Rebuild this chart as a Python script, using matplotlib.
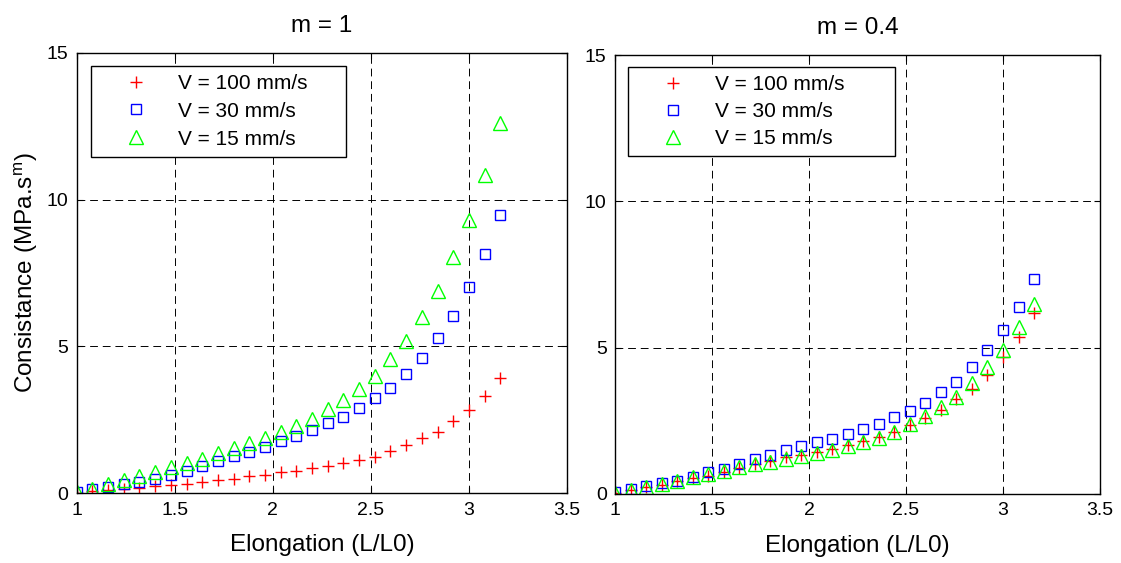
import matplotlib
matplotlib.use("Agg")
import matplotlib.pyplot as plt

plt.rcParams['font.family'] = ['Liberation Sans', 'DejaVu Sans']

elongation = [1.00, 1.08, 1.16, 1.24, 1.32, 1.40, 1.48, 1.56, 1.64, 1.72,
              1.80, 1.88, 1.96, 2.04, 2.12, 2.20, 2.28, 2.36, 2.44, 2.52,
              2.60, 2.68, 2.76, 2.84, 2.92, 3.00, 3.08, 3.16]

labels = ["V = 100 mm/s", "V = 30 mm/s", "V = 15 mm/s"]
titles = ["m = 1", "m = 0.4"]

# m = 1
m1_v100 = [0.02, 0.07, 0.10, 0.14, 0.17, 0.24, 0.28, 0.32, 0.40, 0.44,
           0.50, 0.58, 0.64, 0.71, 0.77, 0.85, 0.93, 1.02, 1.12, 1.25,
           1.45, 1.63, 1.87, 2.09, 2.46, 2.82, 3.31, 3.91]
m1_v30 = [0.06, 0.14, 0.23, 0.31, 0.39, 0.48, 0.62, 0.77, 0.94, 1.09,
          1.26, 1.41, 1.59, 1.77, 1.96, 2.15, 2.38, 2.60, 2.91, 3.23,
          3.59, 4.06, 4.59, 5.28, 6.04, 7.01, 8.14, 9.47]
m1_v15 = [0.05, 0.15, 0.31, 0.45, 0.60, 0.73, 0.90, 1.04, 1.17, 1.36,
          1.53, 1.70, 1.89, 2.07, 2.30, 2.54, 2.86, 3.17, 3.54, 3.99,
          4.57, 5.19, 5.99, 6.89, 8.03, 9.32, 10.83, 12.62]

# m = 0.4
m04_v100 = [0.02, 0.13, 0.24, 0.32, 0.43, 0.55, 0.63, 0.76, 0.90, 1.03,
            1.13, 1.25, 1.32, 1.44, 1.55, 1.67, 1.82, 1.96, 2.12, 2.35,
            2.58, 2.86, 3.24, 3.60, 4.07, 4.67, 5.37, 6.20]
m04_v30 = [0.08, 0.17, 0.27, 0.36, 0.46, 0.59, 0.74, 0.87, 1.04, 1.18,
           1.34, 1.50, 1.63, 1.76, 1.89, 2.06, 2.21, 2.38, 2.63, 2.83,
           3.12, 3.47, 3.84, 4.35, 4.93, 5.61, 6.39, 7.36]
m04_v15 = [0.02, 0.14, 0.24, 0.35, 0.45, 0.57, 0.68, 0.78, 0.91, 1.01,
           1.08, 1.21, 1.29, 1.41, 1.52, 1.63, 1.79, 1.93, 2.11, 2.38,
           2.65, 2.98, 3.33, 3.79, 4.33, 4.93, 5.69, 6.49]

xticks = [1, 1.5, 2, 2.5, 3, 3.5]
xtick_labels = ["1", "1.5", "2", "2.5", "3", "3.5"]
yticks = [0, 5, 10, 15]
ytick_labels = ["0", "5", "10", "15"]

W, H = 1121, 563
fig = plt.figure(figsize=(W / 100, H / 100), dpi=100)

def px_axes(x0, x1, y0, y1):
    return fig.add_axes([x0 / W, 1 - y1 / H, (x1 - x0) / W, (y1 - y0) / H])

ax1 = px_axes(76.7, 567, 52.7, 493.3)
ax2 = px_axes(615, 1100, 55, 494)

series = [
    (m1_v100, m1_v30, m1_v15),
    (m04_v100, m04_v30, m04_v15),
]
legend_boxes = [(0.0286, 0.9705, 0.5207, 0.42), (0.0268, 0.9727, 0.5505, 0.38)]

for ax, (s100, s30, s15), title, lb in zip([ax1, ax2], series, titles, legend_boxes):
    ax.plot(elongation, s100, linestyle='none', marker='+', color=(1, 0, 0),
            markersize=9, markeredgewidth=1.0, label=labels[0])
    ax.plot(elongation, s30, linestyle='none', marker='s', color=(0, 0, 1),
            markerfacecolor='none', markersize=7.8, markeredgewidth=1.0, label=labels[1])
    ax.plot(elongation, s15, linestyle='none', marker='^', color=(0, 1, 0),
            markerfacecolor='none', markersize=9.5, markeredgewidth=1.0, label=labels[2])
    ax.set_xlim(1, 3.5)
    ax.set_ylim(0, 15)
    ax.set_xticks(xticks)
    ax.set_xticklabels(xtick_labels)
    ax.set_yticks(yticks)
    ax.set_yticklabels(ytick_labels)
    ax.tick_params(direction='in', length=4, width=0.8, labelsize=14, pad=6,
                   top=True, right=True)
    ax.grid(True, color='black', linestyle=(0, (8, 5)), linewidth=0.7)
    for sp in ax.spines.values():
        sp.set_linewidth(1.0)
        sp.set_color('black')
    ax.set_title(title, fontsize=17.5, pad=15)
    ax.set_xlabel("Elongation (L/L0)", fontsize=17.5, labelpad=11)
    leg = ax.legend(loc='upper left', bbox_to_anchor=(lb[0], lb[1], lb[2], 0),
                    mode='expand', borderaxespad=0, fontsize=15,
                    handlelength=3.5, handletextpad=0.3, labelspacing=lb[3],
                    borderpad=0.4, fancybox=False, framealpha=1,
                    edgecolor='black')
    leg.get_frame().set_linewidth(1.0)

ax1.set_ylabel("Consistance (MPa.s$^\\mathregular{m}$)", fontsize=17.5, labelpad=5)

fig.savefig("out.png", dpi=100)
